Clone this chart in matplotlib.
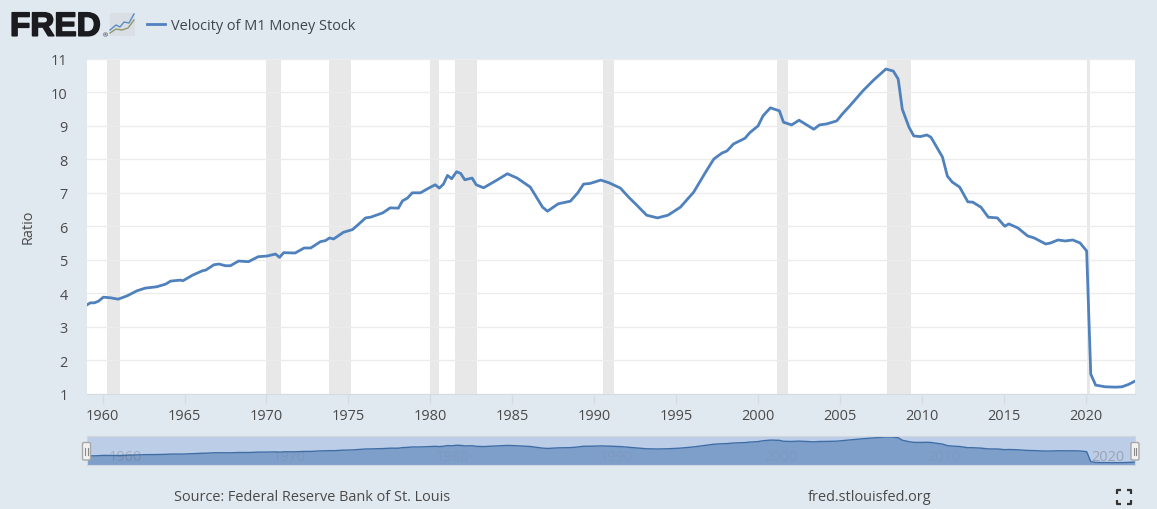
import matplotlib
matplotlib.use('Agg')
import matplotlib.pyplot as plt
import matplotlib.patheffects as pe
from matplotlib.patches import FancyBboxPatch, Rectangle

plt.rcParams['font.family'] = ['Open Sans', 'DejaVu Sans']

# year (decimal), velocity
years = [1959.05, 1959.25, 1959.5, 1959.75, 1960.05, 1960.5, 1960.95, 1961.5, 1962.1, 1962.6, 1963.3, 1963.85,
         1964.15, 1964.75, 1964.9, 1965.5, 1966.1, 1966.3, 1966.8, 1967.1, 1967.5, 1967.8, 1968.3, 1968.9,
         1969.5, 1970.05, 1970.55, 1970.8, 1971.05, 1971.75, 1972.3, 1972.7, 1973.3, 1973.6, 1973.85, 1974.1,
         1974.7, 1975.25, 1975.6, 1976.05, 1976.35, 1977.1, 1977.55, 1978.05, 1978.3, 1978.6, 1978.9, 1979.4,
         1979.9, 1980.3, 1980.55, 1980.8, 1981.05, 1981.3, 1981.6, 1981.85, 1982.1, 1982.55, 1982.8, 1983.25,
         1984.1, 1984.7, 1985.3, 1986.1, 1986.85, 1987.15, 1987.8, 1988.55, 1989.0, 1989.35, 1989.75, 1990.4,
         1990.9, 1991.6, 1992.1, 1992.6, 1993.2, 1993.86, 1994.5, 1995.26, 1996.07, 1996.8, 1997.3, 1997.8,
         1998.1, 1998.5, 1999.2, 1999.5, 2000.0, 2000.3, 2000.75, 2001.3, 2001.55, 2002.05, 2002.5, 2003.4,
         2003.75, 2004.2, 2004.8, 2005.15, 2005.6, 2006.4, 2007.05, 2007.8, 2008.25, 2008.55, 2008.8, 2009.2,
         2009.5, 2009.9, 2010.3, 2010.55, 2011.25, 2011.55, 2011.85, 2012.3, 2012.8, 2013.1, 2013.6, 2014.05,
         2014.6, 2015.05, 2015.3, 2015.85, 2016.45, 2016.85, 2017.55, 2017.85, 2018.3, 2018.75, 2019.2, 2019.65,
         2020.05, 2020.3, 2020.6, 2021.2, 2021.8, 2022.2, 2022.6, 2023.0]
velocity = [3.65, 3.71, 3.71, 3.76, 3.88, 3.86, 3.82, 3.92, 4.07, 4.15, 4.19, 4.27,
            4.36, 4.39, 4.37, 4.54, 4.67, 4.69, 4.85, 4.87, 4.82, 4.82, 4.96, 4.94,
            5.09, 5.11, 5.17, 5.07, 5.21, 5.2, 5.35, 5.35, 5.54, 5.57, 5.65, 5.62,
            5.82, 5.9, 6.05, 6.25, 6.27, 6.4, 6.55, 6.54, 6.76, 6.84, 7.0, 7.0,
            7.14, 7.24, 7.14, 7.26, 7.52, 7.42, 7.63, 7.58, 7.39, 7.44, 7.24, 7.15,
            7.39, 7.57, 7.44, 7.17, 6.57, 6.45, 6.67, 6.75, 7.0, 7.26, 7.28, 7.38,
            7.3, 7.14, 6.87, 6.63, 6.33, 6.25, 6.33, 6.57, 7.02, 7.62, 8.01, 8.19,
            8.25, 8.46, 8.63, 8.8, 9.0, 9.3, 9.54, 9.45, 9.11, 9.03, 9.17, 8.9,
            9.03, 9.06, 9.15, 9.36, 9.6, 10.05, 10.37, 10.7, 10.64, 10.4, 9.5, 8.97,
            8.7, 8.68, 8.73, 8.66, 8.07, 7.5, 7.32, 7.17, 6.73, 6.72, 6.57, 6.27,
            6.25, 6.0, 6.07, 5.95, 5.71, 5.65, 5.47, 5.5, 5.59, 5.56, 5.59, 5.5,
            5.26, 1.58, 1.25, 1.2, 1.19, 1.2, 1.27, 1.37]

recessions = [(1960.27, 1961.06), (1969.97, 1970.88), (1973.81, 1975.16), (1979.98, 1980.53),
              (1981.5, 1982.85), (1990.53, 1991.2), (2001.15, 2001.82), (2007.86, 2009.32),
              (2020.06, 2020.24)]
y_ticks = list(range(1, 12))
x_ticks = list(range(1960, 2021, 5))

W, H = 1157, 510
BG = '#e1e9f0'
LINE = '#4f81bd'
TXT = '#4a4a4a'
FS = 10.45

fig = plt.figure(figsize=(W / 100, H / 100), dpi=100, facecolor=BG)

def axes_px(left, top, right, bottom):
    return fig.add_axes([left / W, 1 - bottom / H, (right - left) / W, (bottom - top) / H])

# main chart
ax = axes_px(87, 60, 1135, 394.5)
ax.set_xlim(1959.05, 2023.0)
ax.set_ylim(1, 11)
for a, b in recessions:
    ax.axvspan(a, b, color='#e8e8e8', lw=0, zorder=1)
ax.grid(axis='y', color='#ececec', lw=1, zorder=2)
ax.plot(years, velocity, color=LINE, lw=2, zorder=3, solid_joinstyle='round')
ax.set_xticks(x_ticks)
ax.set_yticks(y_ticks)
ax.tick_params(axis='x', length=7, width=1, color='#d5dbe0', labelsize=FS, labelcolor=TXT, pad=3.5)
ax.tick_params(axis='y', length=0, labelsize=FS, labelcolor=TXT, pad=14)
for s in ax.spines.values():
    s.set_visible(False)
ax.spines['bottom'].set_visible(True)
ax.spines['bottom'].set_color('#d5dbe0')
ax.set_ylabel('Ratio', fontsize=FS, color=TXT, labelpad=11)

# navigator below the chart
nav = axes_px(87, 437, 1135, 466)
nav.set_xlim(1959.05, 2023.0)
nav.set_ylim(0.32, 11.06)
nav.set_facecolor('#bccde8')
nav.fill_between(years, 0, velocity, color='#7f9fcb', lw=0)
nav.plot(years, velocity, color='#3f6ea6', lw=1)
nav.set_xticks([])
nav.set_yticks([])
for s in nav.spines.values():
    s.set_color('#cfd6de')
for yr, a in zip(range(1960, 2021, 10), [.3, .14, .1, .1, .1, .1, .4]):
    nav.text(yr + 0.35, 3.3, str(yr), fontsize=FS, color='#666666', alpha=a,
             ha='left', va='center', clip_on=True)

# whole-figure overlay in pixel coordinates
ov = fig.add_axes([0, 0, 1, 1], facecolor='none')
ov.set_xlim(0, W)
ov.set_ylim(H, 0)
ov.axis('off')
for cx in (86.5, 1135):
    ov.add_patch(FancyBboxPatch((cx - 4, 443.5), 8, 17.5, boxstyle='round,pad=0,rounding_size=1.5',
                                fc='#f2f2f2', ec='#a8a8a8', lw=1, zorder=5))
    ov.plot([cx - 1.2, cx - 1.2], [449, 456], color='#888888', lw=0.8, zorder=6)
    ov.plot([cx + 1.2, cx + 1.2], [449, 456], color='#888888', lw=0.8, zorder=6)

# FRED logo and legend
ov.text(10, 36.7, 'FRED', fontsize=24, fontweight='bold', family=['Liberation Sans', 'DejaVu Sans'],
        color='#1a1a1f', ha='left', va='baseline',
        path_effects=[pe.withStroke(linewidth=1.2, foreground='#1a1a1f')])
ov.text(103, 37, '®', fontsize=4.5, color='#1a1a1f', ha='left', va='baseline')
ov.add_patch(Rectangle((110, 14), 25, 23, fc='#d9dfe5', ec='none'))
ov.plot([110, 116, 120, 124, 129, 134], [31, 26, 28, 23, 24, 15], color='#5b8cc4', lw=1)
ov.plot([110, 116, 122, 128, 134], [34, 30, 31, 29, 21], color='#8f9a6a', lw=1)
ov.plot([147, 165], [24.5, 24.5], color=LINE, lw=2)
ov.text(171, 30, 'Velocity of M1 Money Stock', fontsize=FS, color='#3d4650', va='baseline')

ov.text(174, 501, 'Source: Federal Reserve Bank of St. Louis', fontsize=FS, color=TXT, va='baseline')
ov.text(808, 501, 'fred.stlouisfed.org', fontsize=FS, color=TXT, va='baseline')

# fullscreen icon corners
for cx, cy, dx, dy in [(1117, 491, 1, 1), (1131, 491, -1, 1), (1117, 505, 1, -1), (1131, 505, -1, -1)]:
    ov.plot([cx + dx * 4, cx, cx], [cy, cy, cy + dy * 4], color='#333333', lw=1.6, solid_capstyle='butt')

fig.savefig('out.png', dpi=100, facecolor=BG)
